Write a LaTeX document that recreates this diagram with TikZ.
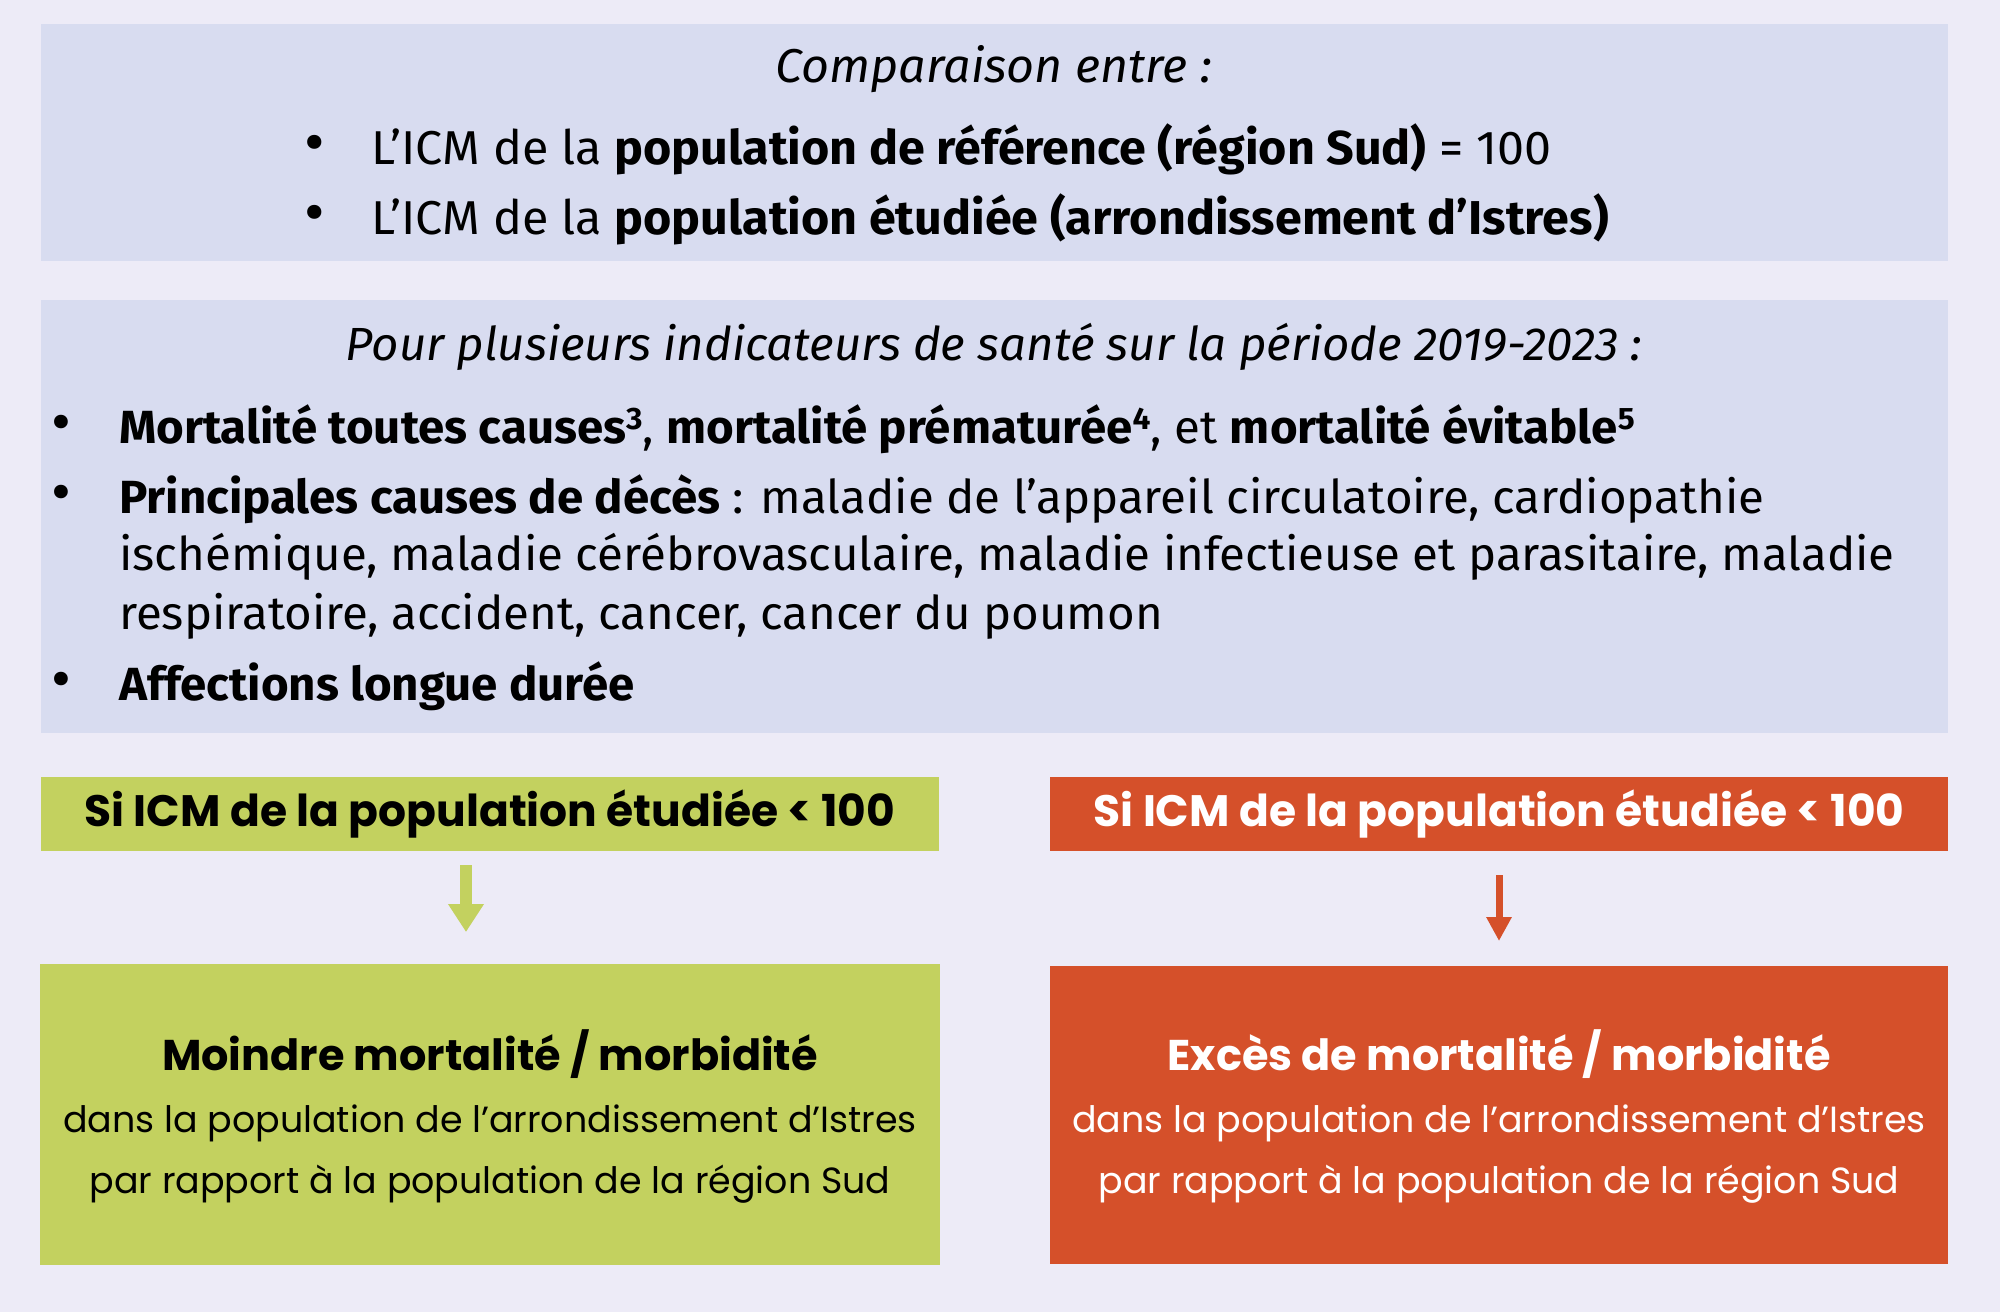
\documentclass[tikz,border=0pt]{standalone}
\usepackage{fontspec}
\setmainfont{Fira Sans}[FakeStretch=1.02]
\newfontfamily\pop{Poppins}
\usetikzlibrary{arrows.meta}
\definecolor{bg}{HTML}{EDEBF7}
\definecolor{lav}{HTML}{D8DCF0}
\definecolor{grn}{HTML}{C3D15F}
\definecolor{org}{HTML}{D5502A}
\newcommand{\supn}[1]{\raisebox{0.3em}{\fontsize{31}{31}\selectfont #1}}
\begin{document}
\begin{tikzpicture}[x=1pt,y=-1pt,
  panel/.style={fill=#1, draw=none, inner sep=0pt},
  toptxt/.style={inner sep=0pt, anchor=west, font=\fontsize{47.5}{56}\selectfont},
  midtxt/.style={inner sep=0pt, anchor=west, font=\fontsize{46.5}{56}\selectfont},
  bulA/.style={inner sep=0pt, font=\fontsize{62}{62}\selectfont},
  bulB/.style={inner sep=0pt, font=\fontsize{60}{60}\selectfont},
  head/.style={panel=#1, minimum width=898pt, minimum height=74pt, font=\pop\bfseries\fontsize{44}{50}\selectfont},
  btitle/.style={inner sep=0pt, font=\pop\bfseries\fontsize{43}{50}\selectfont},
  bbody/.style={inner sep=0pt, font=\pop\fontsize{36.4}{44}\selectfont},
  garrow/.style={draw=grn, line width=12pt, -{Triangle[width=34pt,length=28pt]}},
  rarrow/.style={draw=org, line width=7pt, -{Triangle[width=24pt,length=24pt]}}
]
\fill[bg] (0,0) rectangle (2000,1312);
\useasboundingbox (0,0) rectangle (2000,1312);

% top panel
\node[panel=lav, minimum width=1907pt, minimum height=237pt] (cmp) at (994.5,142.5) {};
\node[inner sep=0pt, font=\itshape\fontsize{47.5}{56}\selectfont] (cmpT) at (994,69) {Comparaison entre :};
\node[bulA] (b1) at (315,149) {•};
\node[toptxt] (t1) at (371,149) {L’ICM de la \textbf{population de référence (région Sud)} = 100};
\node[bulA] (b2) at (315,219) {•};
\node[toptxt] (t2) at (371,219) {L’ICM de la \textbf{population étudiée (arrondissement d’Istres)}};

% second panel
\node[panel=lav, minimum width=1907pt, minimum height=433pt] (ind) at (994.5,516.5) {};
\node[inner sep=0pt, font=\itshape\fontsize{46.5}{56}\selectfont] (indT) at (994,347) {Pour plusieurs indicateurs de santé sur la période 2019-2023 :};
\node[bulB] (c1) at (61,429) {•};
\node[midtxt] (u1) at (119,429) {\textbf{Mortalité toutes causes}\supn{\textbf{3}}, \textbf{mortalité prématurée}\supn{\textbf{4}}, et \textbf{mortalité évitable}\supn{\textbf{5}}};
\node[bulB] (c2) at (61,499) {•};
\node[midtxt] (u2) at (119,499) {\textbf{Principales causes de décès} : maladie de l’appareil circulatoire, cardiopathie};
\node[midtxt] (u3) at (119,557) {ischémique, maladie cérébrovasculaire, maladie infectieuse et parasitaire, maladie};
\node[midtxt] (u4) at (119,616) {respiratoire, accident, cancer, cancer du poumon};
\node[bulB] (c3) at (61,686) {•};
\node[midtxt] (u5) at (119,686) {\textbf{Affections longue durée}};

% headers
\node[head=grn, text=black] (gh) at (490,814) {Si ICM de la population étudiée < 100};
\node[head=org, text=white] (rh) at (1499,814) {Si ICM de la population étudiée < 100};

% arrows
\coordinate (ga1) at (466,865);
\coordinate (ga2) at (466,932);
\coordinate (ra1) at (1499,875);
\coordinate (ra2) at (1499,941);
\draw[garrow] (ga1) -- (ga2);
\draw[rarrow] (ra1) -- (ra2);

% bottom boxes
\node[panel=grn, minimum width=900pt, minimum height=301pt] (gb) at (490,1114.5) {};
\node[btitle] (gb1) at (490,1054) {Moindre mortalité / morbidité};
\node[bbody] (gb2) at (490,1123) {dans la population de l’arrondissement d’Istres};
\node[bbody] (gb3) at (490,1184) {par rapport à la population de la région Sud};

\node[panel=org, minimum width=898pt, minimum height=298pt] (rb) at (1499,1115) {};
\node[btitle, text=white] (rb1) at (1499,1054) {Excès de mortalité / morbidité};
\node[bbody, text=white] (rb2) at (1499,1123) {dans la population de l’arrondissement d’Istres};
\node[bbody, text=white] (rb3) at (1499,1184) {par rapport à la population de la région Sud};
\end{tikzpicture}
\end{document}
